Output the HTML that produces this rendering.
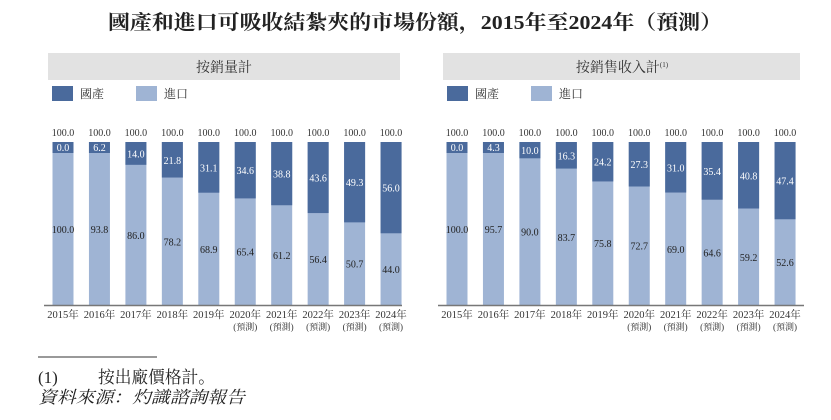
<!DOCTYPE html>
<html><head><meta charset="utf-8"><style>
body{margin:0;background:#fff;}
svg{display:block;}
text{font-family:"Liberation Serif","Noto Serif CJK SC","Noto Sans CJK TC",serif;}
</style></head><body>
<svg id="s" width="831" height="420" xmlns="http://www.w3.org/2000/svg">
<text x="108" y="29" font-size="20" font-weight="bold" fill="#222" textLength="614" lengthAdjust="spacingAndGlyphs">國產和進口可吸收結紮夾的市場份額，2015年至2024年（預測）</text>
<rect x="48" y="53" width="352" height="27" fill="#e2e2e2"/>
<text x="224" y="72" text-anchor="middle" font-size="14" fill="#333">按銷量計</text>
<rect x="443" y="53" width="357" height="27" fill="#e2e2e2"/>
<text x="622" y="72" text-anchor="middle" font-size="14" fill="#333">按銷售收入計<tspan font-size="7" dy="-5">(1)</tspan></text>
<line x1="38" y1="357" x2="157" y2="357" stroke="#333" stroke-width="1"/>
<text x="38" y="383" font-size="17" fill="#222">(1)</text>
<text x="98" y="383" font-size="17" fill="#222" textLength="117" lengthAdjust="spacingAndGlyphs">按出廠價格計。</text>
<text x="38" y="403" font-size="17" font-style="italic" fill="#222" textLength="207" lengthAdjust="spacingAndGlyphs">資料來源：灼識諮詢報告</text>
</svg>
<script>
var s=document.getElementById('s'),NS='http://www.w3.org/2000/svg';
function el(t,a,txt){var e=document.createElementNS(NS,t);for(var k in a)e.setAttribute(k,a[k]);if(txt!=null)e.textContent=txt;s.appendChild(e);return e;}
var yrs=['2015','2016','2017','2018','2019','2020','2021','2022','2023','2024'];
function chart(x0,axL,axR,dom,lx){
 el('rect',{x:lx,y:86,width:21,height:15,fill:'#4a6a9c'});
 el('text',{x:lx+28,y:98,'font-size':12,fill:'#333'},'國產');
 el('rect',{x:lx+84,y:86,width:21,height:15,fill:'#9fb4d4'});
 el('text',{x:lx+112,y:98,'font-size':12,fill:'#333'},'進口');
 var top=142,bot=305,H=bot-top;
 for(var i=0;i<10;i++){
  var cx=x0+i*36.45,d=dom[i],h=H*d/100,xl=cx-10.5;
  el('rect',{x:xl,y:top,width:21,height:H,fill:'#9fb4d4'});
  el('rect',{x:xl,y:top,width:21,height:Math.max(h,11),fill:'#4a6a9c'});
  el('text',{x:cx,y:136,'text-anchor':'middle','font-size':10,fill:'#333'},'100.0');
  var dy=Math.max(top+9,top+h/2+4);
  el('text',{x:cx,y:dy,'text-anchor':'middle','font-size':10,fill:'#fff'},d.toFixed(1));
  el('text',{x:cx,y:top+Math.max(h,11)+(H-Math.max(h,11))/2+4,'text-anchor':'middle','font-size':10,fill:'#222'},(100-d).toFixed(1));
  el('text',{x:cx,y:318,'text-anchor':'middle','font-size':10.5,fill:'#333'},yrs[i]+'年');
  if(i>=5) el('text',{x:cx,y:330,'text-anchor':'middle','font-size':9,fill:'#333'},'(預測)');
 }
 el('line',{x1:axL,y1:305.5,x2:axR,y2:305.5,stroke:'#777','stroke-width':1.5});
}
chart(63,44,402,[0,6.2,14,21.8,31.1,34.6,38.8,43.6,49.3,56],52);
chart(457,438,804,[0,4.3,10,16.3,24.2,27.3,31,35.4,40.8,47.4],447);
</script>
</body></html>
